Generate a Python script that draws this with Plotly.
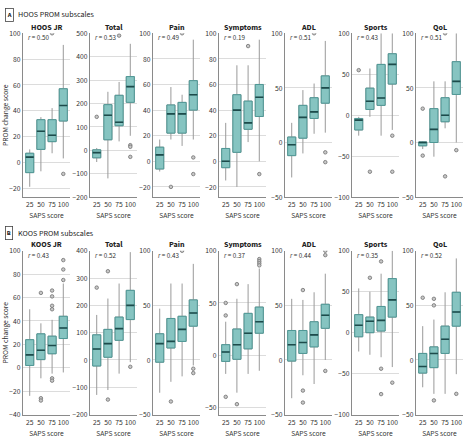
import plotly.graph_objects as go

W, H = 467, 444
saps = [25, 50, 75, 100]
saps_labels = ["25", "50", "75", "100"]

# ---------------- HOOS (row A) ----------------
hoos_titles = ["HOOS JR", "Total", "Pain", "Symptoms", "ADL", "Sports", "QoL"]
hoos_r = ["0.50", "0.53", "0.49", "0.19", "0.51", "0.43", "0.51"]

hoos_jr_lo = [-19, -7, 7, 3]
hoos_jr_q1 = [-8, 10, 16, 32]
hoos_jr_med = [4, 24, 21, 44]
hoos_jr_q3 = [7, 33, 33, 57]
hoos_jr_hi = [10, 35, 42, 91]
hoos_jr_out_x = [75, 100]
hoos_jr_out_y = [100, -9]

hoos_total_lo = [-50, -120, 38, 62]
hoos_total_q1 = [-32, 45, 105, 205]
hoos_total_med = [-10, 150, 120, 272]
hoos_total_q3 = [2, 195, 235, 315]
hoos_total_hi = [10, 250, 292, 455]
hoos_total_out_x = [25, 75, 100, 100, 100]
hoos_total_out_y = [143, 490, 22, 15, -28]

hoos_pain_lo = [-8, 17, 12, 17]
hoos_pain_q1 = [-6, 22, 22, 40]
hoos_pain_med = [5, 37, 37, 52]
hoos_pain_q3 = [11, 44, 46, 63]
hoos_pain_hi = [17, 58, 52, 95]
hoos_pain_out_x = [50, 75, 100, 100]
hoos_pain_out_y = [-20, 100, 3, -10]

hoos_sym_lo = [-15, -20, 15, 0]
hoos_sym_q1 = [-5, 7, 25, 35]
hoos_sym_med = [0, 40, 30, 50]
hoos_sym_q3 = [10, 52, 47, 60]
hoos_sym_hi = [30, 75, 75, 95]
hoos_sym_out_x = [75, 100]
hoos_sym_out_y = [90, -10]

hoos_adl_lo = [-32, -10, 8, 9]
hoos_adl_q1 = [-12, 4, 22, 36]
hoos_adl_med = [-2, 23, 28, 50]
hoos_adl_q3 = [5, 34, 41, 61]
hoos_adl_hi = [18, 48, 54, 93]
hoos_adl_out_x = [75, 100, 100]
hoos_adl_out_y = [100, -9, -18]

hoos_sports_lo = [-25, -2, -25, -18]
hoos_sports_q1 = [-18, 7, 12, 38]
hoos_sports_med = [-6, 17, 21, 62]
hoos_sports_q3 = [-4, 33, 62, 75]
hoos_sports_hi = [-2, 57, 100, 100]
hoos_sports_out_x = [25, 50, 100, 100]
hoos_sports_out_y = [55, -69, -25, -69]

hoos_qol_lo = [-6, -13, 13, 0]
hoos_qol_q1 = [-3, 0, 19, 44]
hoos_qol_med = [0, 12, 25, 56]
hoos_qol_q3 = [0.5, 31, 41, 74]
hoos_qol_hi = [1, 56, 56, 100]
hoos_qol_out_x = [25, 25, 75, 75, 100]
hoos_qol_out_y = [31, -12, 100, -31, -7]

# ---------------- KOOS (row B) ----------------
koos_titles = ["KOOS JR", "Total", "Pain", "Symptoms", "ADL", "Sports", "QoL"]
koos_r = ["0.43", "0.52", "0.43", "0.37", "0.44", "0.35", "0.52"]

koos_jr_lo = [-24, -9, -5, -4]
koos_jr_q1 = [2, 7, 12, 25]
koos_jr_med = [11, 15, 19, 34]
koos_jr_q3 = [24, 29, 27, 44]
koos_jr_hi = [50, 38, 41, 72]
koos_jr_out_x = [50, 50, 50, 75, 75, 75, 75, 75, 75, 100, 100, 100]
koos_jr_out_y = [64, -26, -28, 66, 61, 53, 50, -9, -11, 92, 84, 75]

koos_total_lo = [-128, -110, -50, -8]
koos_total_q1 = [-22, 10, 72, 148]
koos_total_med = [40, 60, 115, 200]
koos_total_q3 = [92, 112, 157, 255]
koos_total_hi = [165, 225, 280, 395]
koos_total_out_x = [25, 50, 50, 100]
koos_total_out_y = [265, 325, -145, -25]

koos_pain_lo = [-30, -20, -15, -5]
koos_pain_q1 = [-2, 11, 17, 31]
koos_pain_med = [15, 17, 28, 43]
koos_pain_q3 = [24, 38, 40, 55]
koos_pain_hi = [47, 70, 70, 88]
koos_pain_out_x = [50, 75, 100, 100]
koos_pain_out_y = [-38, 100, -8, -12]

koos_sym_lo = [-18, -36, -18, -15]
koos_sym_q1 = [-6, -4, 6, 21]
koos_sym_med = [3, 10, 21, 32]
koos_sym_q3 = [10, 25, 40, 46]
koos_sym_hi = [32, 54, 68, 83]
koos_sym_out_x = [25, 25, 25, 50, 50, 100, 100, 100, 100]
koos_sym_out_y = [50, 38, -40, 68, -47, 92, 90, 88, 86]

koos_adl_lo = [-35, -14, -22, 0]
koos_adl_q1 = [-1, 6, 12, 29]
koos_adl_med = [14, 16, 23, 41]
koos_adl_q3 = [27, 27, 35, 51]
koos_adl_hi = [56, 55, 62, 79]
koos_adl_out_x = [50, 50, 50, 100, 100, 100]
koos_adl_out_y = [64, -28, -39, 100, 96, -10]

koos_sports_lo = [-23, -27, -30, -42]
koos_sports_q1 = [-5, 0, 2, 19]
koos_sports_med = [9, 14, 15, 40]
koos_sports_q3 = [22, 19, 32, 66]
koos_sports_hi = [54, 50, 72, 100]
koos_sports_out_x = [50, 75, 75, 75, 100]
koos_sports_out_y = [67, 87, -44, -75, -61]

koos_qol_lo = [-25, -31, -31, -13]
koos_qol_q1 = [-12, -7, 6, 31]
koos_qol_med = [-6, 6, 19, 44]
koos_qol_q3 = [6, 12, 31, 62]
koos_qol_hi = [31, 37, 62, 93]
koos_qol_out_x = [25, 50, 50, 50, 100]
koos_qol_out_y = [57, 56, 50, -37, -31]

hoos_ranges = [[-27, 100], [-200, 500], [-28, 100], [-28, 100], [-50, 100], [-100, 100], [-50, 100]]
hoos_dticks = [20, 100, 20, 20, 50, 50, 50]
koos_ranges = [[-40, 100], [-200, 400], [-50, 100], [-57, 100], [-50, 100], [-100, 100], [-50, 100]]
koos_dticks = [20, 100, 50, 50, 50, 50, 50]

hoos_panels = [
    (hoos_jr_lo, hoos_jr_q1, hoos_jr_med, hoos_jr_q3, hoos_jr_hi, hoos_jr_out_x, hoos_jr_out_y),
    (hoos_total_lo, hoos_total_q1, hoos_total_med, hoos_total_q3, hoos_total_hi, hoos_total_out_x, hoos_total_out_y),
    (hoos_pain_lo, hoos_pain_q1, hoos_pain_med, hoos_pain_q3, hoos_pain_hi, hoos_pain_out_x, hoos_pain_out_y),
    (hoos_sym_lo, hoos_sym_q1, hoos_sym_med, hoos_sym_q3, hoos_sym_hi, hoos_sym_out_x, hoos_sym_out_y),
    (hoos_adl_lo, hoos_adl_q1, hoos_adl_med, hoos_adl_q3, hoos_adl_hi, hoos_adl_out_x, hoos_adl_out_y),
    (hoos_sports_lo, hoos_sports_q1, hoos_sports_med, hoos_sports_q3, hoos_sports_hi, hoos_sports_out_x, hoos_sports_out_y),
    (hoos_qol_lo, hoos_qol_q1, hoos_qol_med, hoos_qol_q3, hoos_qol_hi, hoos_qol_out_x, hoos_qol_out_y),
]
koos_panels = [
    (koos_jr_lo, koos_jr_q1, koos_jr_med, koos_jr_q3, koos_jr_hi, koos_jr_out_x, koos_jr_out_y),
    (koos_total_lo, koos_total_q1, koos_total_med, koos_total_q3, koos_total_hi, koos_total_out_x, koos_total_out_y),
    (koos_pain_lo, koos_pain_q1, koos_pain_med, koos_pain_q3, koos_pain_hi, koos_pain_out_x, koos_pain_out_y),
    (koos_sym_lo, koos_sym_q1, koos_sym_med, koos_sym_q3, koos_sym_hi, koos_sym_out_x, koos_sym_out_y),
    (koos_adl_lo, koos_adl_q1, koos_adl_med, koos_adl_q3, koos_adl_hi, koos_adl_out_x, koos_adl_out_y),
    (koos_sports_lo, koos_sports_q1, koos_sports_med, koos_sports_q3, koos_sports_hi, koos_sports_out_x, koos_sports_out_y),
    (koos_qol_lo, koos_qol_q1, koos_qol_med, koos_qol_q3, koos_qol_hi, koos_qol_out_x, koos_qol_out_y),
]

# ---------------- layout geometry (pixels) ----------------
FONT = "'Source Sans 3', 'Source Sans Pro', 'PT Sans Narrow', 'Roboto Condensed', Roboto, sans-serif"
TXT = "#333333"
FILL = "#86c4c1"
EDGE = "#4f9896"
MED = "#1d4b4b"
WHISK = "#9a9a9a"
AXIS = "#8a8a8a"
GRID = "#dcdcdc"

panel_left = [23, 90, 153, 219, 285, 352, 416]
panel_w = 47
rows = [
    dict(top=29, bottom=197, header=10, label="A", name="HOOS PROM subscales",
         titles=hoos_titles, r=hoos_r, ranges=hoos_ranges, dticks=hoos_dticks, panels=hoos_panels),
    dict(top=252, bottom=420, header=234, label="B", name="KOOS PROM subscales",
         titles=koos_titles, r=koos_r, ranges=koos_ranges, dticks=koos_dticks, panels=koos_panels),
]
XRANGE = [10, 115]
BOXW = 18


def px(x):
    return x / W


def py(y):
    return 1 - y / H


fig = go.Figure()
annotations = []
n = 0
for row in rows:
    for j in range(7):
        n += 1
        xa = "x" if n == 1 else f"x{n}"
        ya = "y" if n == 1 else f"y{n}"
        lo, q1, med, q3, hi, ox, oy = row["panels"][j]
        # whiskers (full box in grey, underneath)
        fig.add_trace(go.Box(x=saps, q1=q1, median=med, q3=q3, lowerfence=lo, upperfence=hi,
                             width=BOXW, whiskerwidth=0, boxpoints=False,
                             line=dict(color=WHISK, width=1), fillcolor=FILL,
                             xaxis=xa, yaxis=ya, showlegend=False, hoverinfo="skip"))
        # box body in teal
        fig.add_trace(go.Box(x=saps, q1=q1, median=med, q3=q3, lowerfence=q1, upperfence=q3,
                             width=BOXW, whiskerwidth=0, boxpoints=False,
                             line=dict(color=EDGE, width=1), fillcolor=FILL,
                             xaxis=xa, yaxis=ya, showlegend=False, hoverinfo="skip"))
        # median lines
        mx, my = [], []
        for c, m in zip(saps, med):
            mx += [c - BOXW / 2, c + BOXW / 2, None]
            my += [m, m, None]
        fig.add_trace(go.Scatter(x=mx, y=my, mode="lines", line=dict(color=MED, width=1.6),
                                 xaxis=xa, yaxis=ya, showlegend=False, hoverinfo="skip"))
        # outliers
        fig.add_trace(go.Scatter(x=ox, y=oy, mode="markers",
                                 marker=dict(size=3.5, color="#c8c8c8", line=dict(color="#707070", width=0.8)),
                                 xaxis=xa, yaxis=ya, showlegend=False, hoverinfo="skip"))

        x0 = panel_left[j]
        x1 = x0 + panel_w
        xkey = "xaxis" if n == 1 else f"xaxis{n}"
        ykey = "yaxis" if n == 1 else f"yaxis{n}"
        fig.update_layout({
            xkey: dict(domain=[px(x0), px(x1)], range=XRANGE, anchor=ya,
                       tickvals=saps, ticktext=saps_labels, tickangle=0,
                       showline=True, linecolor=AXIS, linewidth=1, showgrid=False, zeroline=False,
                       ticks="", ticklen=0, tickfont=dict(size=7.5, color=TXT, family=FONT),
                       title=dict(text="SAPS score", font=dict(size=7.5, color=TXT, family=FONT), standoff=2)),
            ykey: dict(domain=[py(row["bottom"]), py(row["top"])], range=row["ranges"][j], anchor=xa,
                       dtick=row["dticks"][j], tick0=0,
                       showline=True, linecolor=AXIS, linewidth=1, showgrid=True, gridcolor=GRID,
                       gridwidth=1, zeroline=False, ticks="", ticklen=0,
                       tickfont=dict(size=7.5, color=TXT, family=FONT),
                       title=dict(text="PROM change score" if j == 0 else "",
                                  font=dict(size=7.5, color=TXT, family=FONT), standoff=3)),
        })
        # panel title
        annotations.append(dict(x=px((x0 + x1) / 2), y=py(row["top"] - 6), xref="paper", yref="paper",
                                text=f"<b>{row['titles'][j]}</b>", showarrow=False,
                                font=dict(size=8, color="#222222", family=FONT),
                                xanchor="center", yanchor="middle"))
        # r value
        annotations.append(dict(x=px(x0 + 3), y=py(row["top"] + 5), xref="paper", yref="paper",
                                text=f"<i>r</i> = {row['r'][j]}", showarrow=False,
                                font=dict(size=7, color=TXT, family=FONT),
                                xanchor="left", yanchor="middle"))
    # row label box + name
    annotations.append(dict(x=px(9), y=py(row["header"]), xref="paper", yref="paper",
                            text=f"<b>{row['label']}</b>", showarrow=False,
                            font=dict(size=6.5, color="#222222", family=FONT),
                            bordercolor="#444444", borderwidth=0.8, borderpad=1,
                            xanchor="center", yanchor="middle"))
    annotations.append(dict(x=px(16), y=py(row["header"]), xref="paper", yref="paper",
                            text=row["name"], showarrow=False,
                            font=dict(size=8, color="#222222", family=FONT),
                            xanchor="left", yanchor="middle"))

fig.update_layout(width=W, height=H, margin=dict(l=0, r=0, t=0, b=0),
                  paper_bgcolor="white", plot_bgcolor="white",
                  boxmode="overlay", annotations=annotations,
                  font=dict(family=FONT, size=8, color=TXT))

fig.write_html("out.html", config={"displayModeBar": False},
               post_script="document.body.style.margin='0';document.body.style.padding='0';")
